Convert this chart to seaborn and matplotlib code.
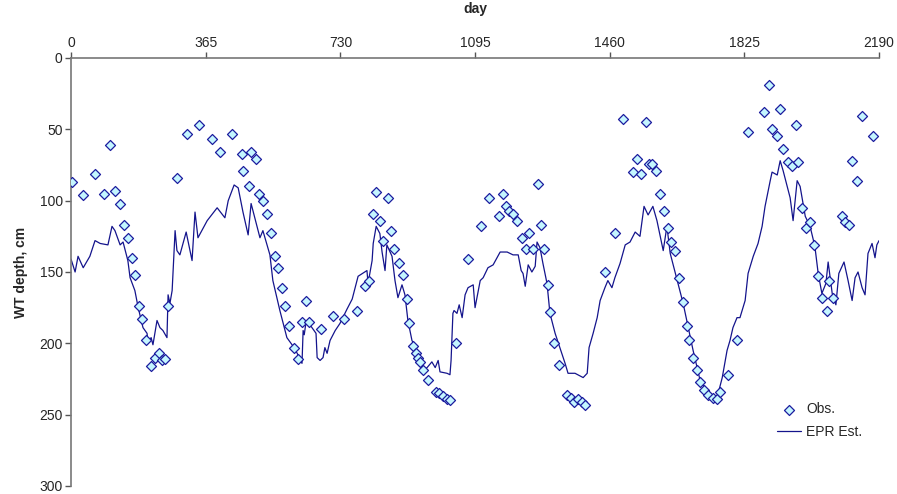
import pandas as pd
import matplotlib
matplotlib.use("Agg")
import matplotlib.pyplot as plt
import seaborn as sns

# Observed water table depth (day, cm)
obs_day = [2, 33, 64, 89, 106, 119, 133, 144, 154, 165, 174, 184, 192, 203, 217, 228, 239, 247, 255, 264,
           287, 314, 348, 382, 405, 437, 462, 467, 481, 489, 501, 510, 521, 532, 543, 553, 560, 571, 580, 590,
           603, 614, 625, 636, 646, 677, 711, 739, 774, 797, 807, 818, 827, 838, 846, 858, 867, 875, 889, 900,
           910, 916, 928, 935, 940, 946, 955, 968, 989, 998, 1009, 1019, 1027, 1043, 1077, 1112, 1134, 1161,
           1172, 1180, 1188, 1197, 1208, 1221, 1232, 1242, 1253, 1265, 1273, 1281, 1293, 1299, 1310, 1322,
           1344, 1354, 1364, 1375, 1384, 1393, 1447, 1474, 1495, 1522, 1533, 1546, 1558, 1566, 1575, 1585,
           1596, 1607, 1619, 1626, 1636, 1649, 1659, 1670, 1675, 1686, 1697, 1705, 1716, 1726, 1739, 1750,
           1759, 1780, 1806, 1836, 1879, 1891, 1901, 1913, 1922, 1931, 1943, 1953, 1964, 1970, 1980, 1992,
           2002, 2013, 2024, 2035, 2048, 2054, 2065, 2090, 2098, 2109, 2117, 2130, 2144, 2173]
obs_depth = [87, 96, 81, 95, 61, 93, 102, 117, 126, 140, 152, 174, 183, 198, 216, 210, 207, 212, 211, 174,
             84, 53, 47, 57, 66, 53, 67, 79, 90, 66, 71, 95, 100, 109, 123, 139, 147, 161, 174, 188,
             203, 211, 185, 170, 185, 190, 181, 183, 177, 160, 156, 109, 94, 114, 128, 98, 121, 134, 144, 152,
             169, 186, 202, 207, 210, 213, 219, 226, 234, 235, 237, 239, 240, 200, 141, 118, 98, 111,
             95, 104, 107, 109, 114, 126, 134, 123, 134, 88, 117, 134, 159, 178, 200, 215,
             236, 238, 241, 239, 241, 243, 150, 123, 43, 80, 71, 81, 45, 74, 74, 79,
             95, 107, 119, 129, 135, 154, 171, 188, 198, 210, 219, 227, 233, 236, 238, 239,
             234, 222, 198, 52, 38, 19, 50, 55, 36, 64, 73, 76, 47, 73, 105, 119,
             115, 131, 153, 168, 177, 156, 168, 111, 115, 117, 72, 86, 41, 55]

# EPR estimate (day, cm)
est_day = [0, 11, 19, 33, 51, 65, 79, 100, 111, 119, 133, 141, 154, 160, 173, 182, 195, 206, 209, 217,
           222, 233, 241, 249, 260, 263, 268, 274, 282, 287, 295, 312, 328, 336, 344, 369, 396, 417, 426, 442,
           453, 466, 480, 488, 493, 512, 520, 539, 547, 566, 585, 599, 613, 621, 626, 629, 632, 637, 642, 653,
           664, 667, 675, 683, 688, 694, 702, 716, 729, 748, 762, 778, 802, 805, 816, 819, 827, 837, 843, 851,
           856, 870, 878, 886, 897, 905, 913, 924, 938, 946, 954, 965, 978, 987, 995, 1000, 1019, 1027, 1030,
           1035, 1038, 1046, 1052, 1060, 1068, 1076, 1090, 1095, 1109, 1117, 1130, 1144, 1163, 1182, 1198,
           1212, 1220, 1225, 1231, 1239, 1249, 1258, 1263, 1271, 1279, 1290, 1298, 1312, 1325, 1339, 1347,
           1366, 1388, 1399, 1404, 1415, 1426, 1434, 1447, 1455, 1466, 1474, 1488, 1502, 1515, 1529, 1542,
           1553, 1564, 1577, 1588, 1605, 1615, 1624, 1643, 1659, 1673, 1686, 1705, 1724, 1746, 1754, 1765,
           1778, 1786, 1794, 1805, 1813, 1827, 1835, 1849, 1862, 1873, 1881, 1895, 1900, 1914, 1922, 1930,
           1941, 1949, 1957, 1968, 1976, 1990, 2003, 2016, 2025, 2035, 2046, 2052, 2063, 2073, 2081, 2095,
           2106, 2117, 2125, 2133, 2144, 2152, 2160, 2171, 2179, 2184, 2190]
est_depth = [141, 150, 139, 147, 139, 128, 130, 131, 118, 121, 131, 129, 142, 154, 163, 175, 189, 193, 200, 196,
             201, 184, 189, 191, 196, 166, 172, 163, 121, 135, 138, 122, 142, 108, 126, 114, 105, 112, 100, 89,
             91, 108, 124, 102, 107, 126, 121, 138, 156, 177, 196, 201, 207, 212, 214, 191, 194, 185, 185, 189,
             193, 210, 212, 210, 203, 207, 198, 191, 186, 176, 169, 153, 149, 158, 142, 130, 118, 123, 136, 149,
             131, 139, 156, 168, 159, 166, 184, 198, 205, 210, 219, 217, 213, 217, 212, 220, 221, 222, 212,
             179, 177, 179, 173, 182, 166, 161, 159, 175, 156, 154, 147, 145, 136, 136, 138,
             138, 149, 151, 160, 145, 150, 146, 129, 133, 144, 158, 179, 193, 203, 214, 221,
             221, 224, 221, 203, 193, 182, 170, 161, 156, 161, 154, 144, 131, 129, 122, 125,
             104, 110, 104, 114, 135, 118, 137, 156, 172, 189, 205, 226, 233, 240, 235, 224,
             205, 198, 189, 182, 182, 170, 151, 139, 130, 118, 104, 86, 80, 82, 72, 79,
             90, 98, 114, 86, 90, 111, 118, 132, 151, 165, 158, 143, 165, 173, 151, 143,
             156, 170, 154, 150, 161, 166, 137, 130, 140, 131, 128]

obs = pd.DataFrame({"day": obs_day, "depth": obs_depth})
est = pd.DataFrame({"day": est_day, "depth": est_depth})

sns.set_style("white")
plt.rcParams["font.family"] = ["Liberation Sans", "DejaVu Sans"]

fig = plt.figure(figsize=(8.97, 4.94), dpi=100)
ax = fig.add_axes([0.0792, 0.0162, 0.9008, 0.8664])

sns.lineplot(data=est, x="day", y="depth", ax=ax, color="#14148c", linewidth=0.9,
             label="EPR Est.", zorder=2)
sns.scatterplot(data=obs, x="day", y="depth", ax=ax, marker="D", s=26,
                color="#c4f6ff", edgecolor="#1c1c9e", linewidth=0.9, label="Obs.", zorder=3)

ax.set_xlim(0, 2190)
ax.set_ylim(300, 0)
ax.set_xticks([0, 365, 730, 1095, 1460, 1825, 2190])
ax.set_yticks([0, 50, 100, 150, 200, 250, 300])
ax.xaxis.tick_top()
ax.xaxis.set_label_position("top")
ax.set_xlabel("day", fontsize=10, fontweight="bold", labelpad=16)
ax.set_ylabel("WT depth, cm", fontsize=10, fontweight="bold", labelpad=8)
ax.tick_params(axis="x", top=True, bottom=False, direction="out", length=4, width=1,
               color="#555555", labelsize=10, pad=2)
ax.tick_params(axis="y", left=True, direction="out", length=4, width=1,
               color="#555555", labelsize=10, pad=2)

for side in ["right", "bottom"]:
    ax.spines[side].set_visible(False)
for side in ["left", "top"]:
    ax.spines[side].set_color("#777777")
    ax.spines[side].set_linewidth(1.2)

handles, labels = ax.get_legend_handles_labels()
order = [labels.index("Obs."), labels.index("EPR Est.")]
ax.legend([handles[i] for i in order], [labels[i] for i in order], frameon=False,
          loc="center left", bbox_to_anchor=(0.874, 0.153), fontsize=10,
          handlelength=1.7, handletextpad=0.4, labelspacing=0.6,
          borderaxespad=0, borderpad=0)

fig.savefig("out.png", dpi=100)
